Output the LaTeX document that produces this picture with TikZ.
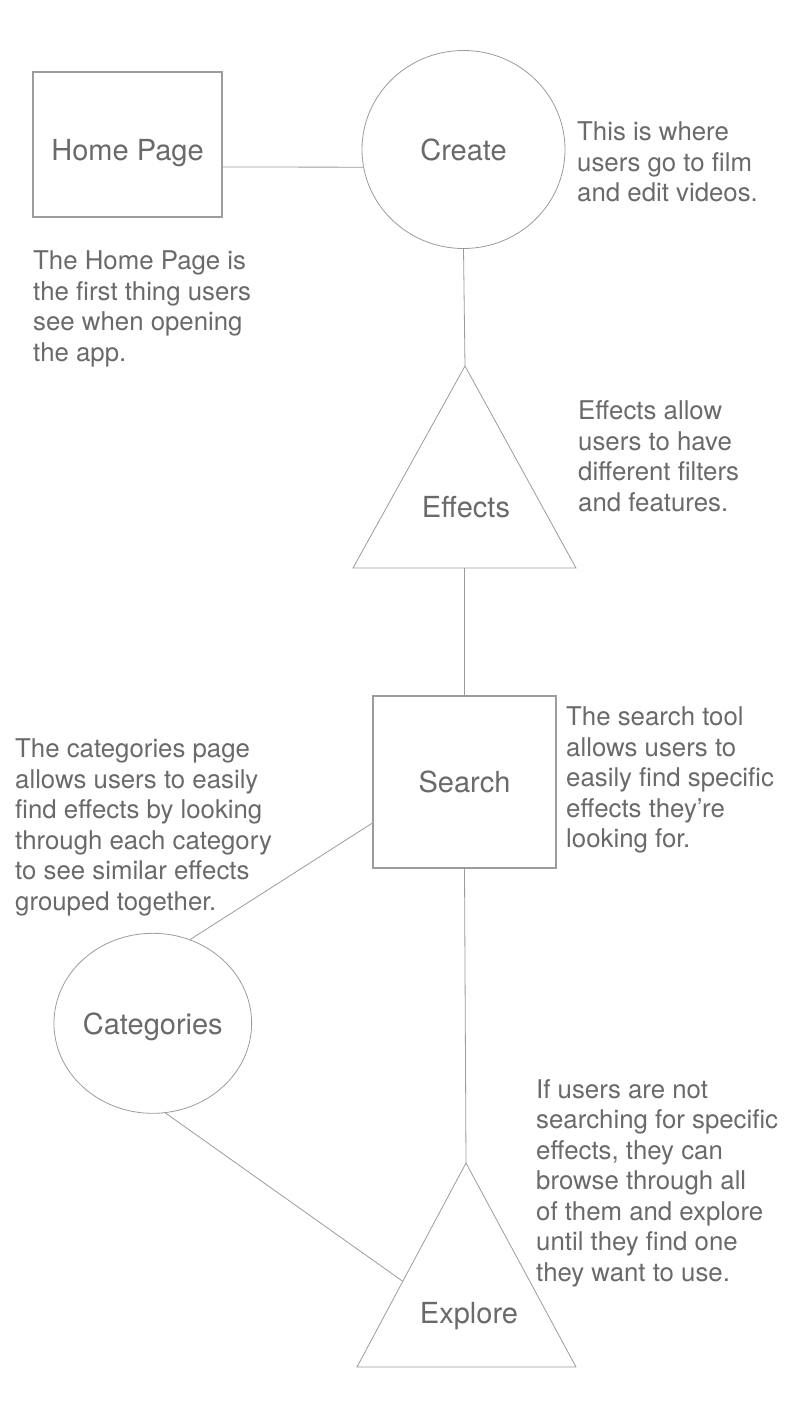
\documentclass[tikz,border=0pt]{standalone}
\usepackage{fontspec}
\setmainfont{TeX Gyre Heros}
\usetikzlibrary{positioning}
\usetikzlibrary{shapes.geometric}
\definecolor{inkgray}{HTML}{6A6A6A}
\definecolor{edgegray}{HTML}{9C9C9C}

\begin{document}
\begin{tikzpicture}[x=1pt,y=-1pt,
    every node/.style={text=inkgray},
    pagebox/.style={draw=edgegray,line width=1.1pt,inner sep=0pt,font=\fontsize{29}{34}\selectfont,text depth=0pt},
    pageoval/.style={ellipse,draw=edgegray,line width=0.8pt,inner sep=0pt,font=\fontsize{29}{34}\selectfont,text depth=0pt},
    pagetri/.style={draw=edgegray,line width=0.8pt,line join=miter},
    tag/.style={anchor=base,inner sep=0pt,font=\fontsize{29}{34}\selectfont},
    note/.style={anchor=north west,align=left,inner sep=0pt,font=\fontsize{25.8}{30.5}\selectfont},
    link/.style={draw=edgegray,line width=0.8pt}]
		\path[fill=white] (0,0) rectangle (796,1414);
		% pages
		\node[pagebox,minimum width=189pt,minimum height=145pt,text height=31pt] (home) at (127.5,144.5) {Home Page};
		\node[pageoval,minimum width=203pt,minimum height=198pt] (create) at (463.5,149.5) {Create};
		\node[pagebox,minimum width=183pt,minimum height=172pt] (search) at (464.5,782) {Search};
		\node[pageoval,minimum width=191pt,minimum height=180pt] (categories) at (152.8,1023.3) {Categories};
		\draw[pagetri] (353,568) coordinate (efLeft) -- (465,366) coordinate (efTop) -- (576,568) coordinate (efRight) -- cycle;
		\coordinate (efBase) at (464.5,568);
		\node[tag] (effects) at (466,517) {Effects};
		\draw[pagetri] (357,1367) coordinate (exLeft) -- coordinate[pos=0.42] (exJoin) (466,1163) coordinate (exTop) -- (576,1367) coordinate (exRight) -- cycle;
		\node[tag] (explore) at (469,1323) {Explore};
		% links
		\draw[link] (home.east |- 0,167) -- (create.190);
		\draw[link] (create.south) -- (efTop);
		\draw[link] (efBase) -- (search.north);
		\draw[link] (search.west |- 0,823) -- (categories.66);
		\draw[link] (categories.278) -- (exJoin);
		\draw[link] (search.south) -- (exTop);
		% notes
		\node[note] (homenote) at (33,250.6) {The Home Page is\\the first thing users\\see when opening\\the app.};
		\node[note] (createnote) at (577,121.6) {This is where\\users go to film\\and edit videos.};
		\node[note] (effectsnote) at (578,400.6) {Effects allow\\users to have\\different filters\\and features.};
		\node[note] (searchnote) at (566,706.6) {The search tool\\allows users to\\easily find specific\\effects they’re\\looking for.};
		\node[note] (categoriesnote) at (15,738.6) {The categories page\\allows users to easily\\find effects by looking\\through each category\\to see similar effects\\grouped together.};
		\node[note] (explorenote) at (536,1079) {If users are not\\searching for specific\\effects, they can\\browse through all\\of them and explore\\until they find one\\they want to use.};
	\end{tikzpicture}
\end{document}
